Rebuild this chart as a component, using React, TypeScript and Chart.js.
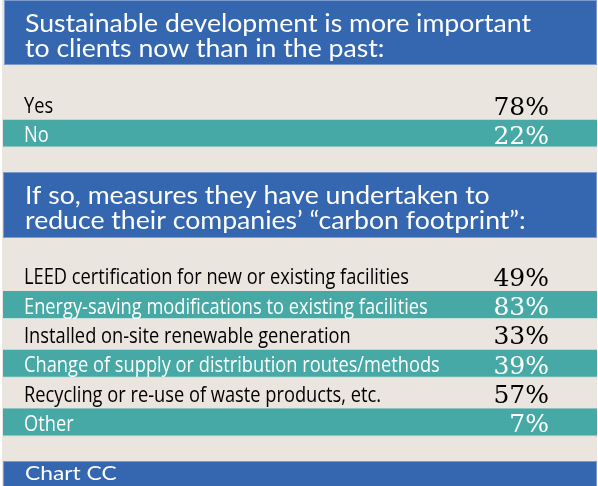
import React, { useEffect, useRef } from "react";
import { Chart, registerables } from "chart.js";

Chart.register(...registerables);

// ---------- data ----------
const TITLE_1 = ["Sustainable development is more important", "to clients now than in the past:"];
const SECTION1_LABELS = ["Yes", "No"];
const SECTION1_VALUES = [78, 22];

const TITLE_2 = ["If so, measures they have undertaken to", "reduce their companies\u2019 \u201Ccarbon footprint\u201D:"];
const SECTION2_LABELS = [
  "LEED certification for new or existing facilities",
  "Energy-saving modifications to existing facilities",
  "Installed on-site renewable generation",
  "Change of supply or distribution routes/methods",
  "Recycling or re-use of waste products, etc.",
  "Other",
];
const SECTION2_VALUES = [49, 83, 33, 39, 57, 7];

const FOOTER = "Chart CC";

// ---------- style ----------
const BLUE = "#3567B1";
const BLUE_EDGE = "#7C9CD0";
const TEAL = "#47A9A6";
const BEIGE = "#EAE5DF";
const LABEL_FONT = '22px "Open Sans", "DejaVu Sans Condensed", sans-serif';
const LABEL_SQUEEZE = 0.83;
const HEADER_FONT = '25px Lato, "Open Sans", sans-serif';
const HEADER_SQUEEZE = 1.065;
const VALUE_FONT = '25px "DejaVu Serif", serif';
const FOOTER_FONT = '19px Lato, "Open Sans", sans-serif';
const FOOTER_SQUEEZE = 1.2;

function drawText(
  ctx: CanvasRenderingContext2D,
  text: string,
  x: number,
  y: number,
  font: string,
  color: string,
  align: "left" | "right",
  squeeze: number
) {
  ctx.save();
  ctx.font = font;
  ctx.fillStyle = color;
  ctx.textBaseline = "alphabetic";
  ctx.textAlign = "left";
  const w = ctx.measureText(text).width * squeeze;
  const left = align === "right" ? x - w : x;
  ctx.translate(left, y);
  ctx.scale(squeeze, 1);
  ctx.fillText(text, 0, 0);
  ctx.restore();
}

type Layout = {
  height: number;
  padTop: number;
  padBottom: number;
  headerTop: number;
  headerHeight: number;
  headerLeft: number;
  title: string[];
  footerTop?: number;
  footerHeight?: number;
};

function tablePlugin(layout: Layout, values: number[]) {
  return {
    id: "tableDecor",
    beforeDraw(chart: any) {
      const { ctx, width, height } = chart;
      ctx.save();
      ctx.fillStyle = BEIGE;
      ctx.fillRect(2, 0, width - 3, height);
      // header band
      ctx.fillStyle = BLUE;
      ctx.fillRect(layout.headerLeft, layout.headerTop, width - 1 - layout.headerLeft, layout.headerHeight);
      ctx.strokeStyle = BLUE_EDGE;
      ctx.lineWidth = 1;
      ctx.strokeRect(layout.headerLeft + 0.5, layout.headerTop + 0.5, width - 2 - layout.headerLeft, layout.headerHeight - 1);
      layout.title.forEach((line, i) => {
        drawText(ctx, line, 25, layout.headerTop + 31.5 + i * 25.5, HEADER_FONT, "#FFFFFF", "left", HEADER_SQUEEZE);
      });
      if (layout.footerTop !== undefined && layout.footerHeight !== undefined) {
        ctx.fillStyle = BLUE;
        ctx.fillRect(3, layout.footerTop, width - 4, layout.footerHeight);
        ctx.strokeStyle = BLUE_EDGE;
        ctx.strokeRect(3.5, layout.footerTop + 0.5, width - 5, layout.footerHeight);
        drawText(ctx, FOOTER, 25, layout.footerTop + 19, FOOTER_FONT, "#FFFFFF", "left", FOOTER_SQUEEZE);
      }
      ctx.restore();
    },
    afterDatasetsDraw(chart: any) {
      const { ctx } = chart;
      const yScale = chart.scales.y;
      const labels: string[] = chart.data.labels;
      labels.forEach((label, i) => {
        const y = yScale.getPixelForValue(i);
        const color = i % 2 === 1 ? "#FFFFFF" : "#000000";
        drawText(ctx, label, 24, y + 8.5, LABEL_FONT, color, "left", LABEL_SQUEEZE);
        drawText(ctx, values[i] + "%", 549, y + 10, VALUE_FONT, color, "right", 1);
      });
    },
  };
}

function TableChart({ labels, values, layout }: { labels: string[]; values: number[]; layout: Layout }) {
  const ref = useRef<HTMLCanvasElement | null>(null);
  useEffect(() => {
    if (!ref.current) return;
    const chart = new Chart(ref.current, {
      type: "bar",
      data: {
        labels,
        datasets: [
          {
            data: labels.map((_, i) => (i % 2 === 1 ? [0, 100] : null)) as any,
            backgroundColor: TEAL,
            borderColor: "rgba(190,225,222,0.9)",
            borderWidth: { top: 0, left: 0, right: 0, bottom: 1 } as any,
            borderSkipped: false,
            barPercentage: 0.96,
            categoryPercentage: 1,
          },
        ],
      },
      options: {
        indexAxis: "y",
        animation: false,
        responsive: false,
        events: [],
        layout: { padding: { top: layout.padTop, bottom: layout.padBottom, left: 3, right: 1 } },
        scales: {
          x: { display: false, min: 0, max: 100 },
          y: { display: false },
        },
        plugins: {
          legend: { display: false },
          tooltip: { enabled: false },
          title: { display: false },
        },
      },
      plugins: [tablePlugin(layout, values)],
    } as any);
    return () => chart.destroy();
  }, [labels, values, layout]);
  return (
    <canvas
      ref={ref}
      width={598}
      height={layout.height}
      style={{ display: "block", width: 598, height: layout.height }}
    />
  );
}

const LAYOUT_1: Layout = {
  height: 160,
  padTop: 90,
  padBottom: 12,
  headerTop: 0,
  headerHeight: 65,
  headerLeft: 4,
  title: TITLE_1,
};

const LAYOUT_2: Layout = {
  height: 326,
  padTop: 101,
  padBottom: 49,
  headerTop: 12,
  headerHeight: 66,
  headerLeft: 3,
  title: TITLE_2,
  footerTop: 301,
  footerHeight: 25,
};

export default function App() {
  useEffect(() => {
    document.body.style.margin = "0";
  }, []);
  return (
    <div style={{ width: 598, height: 486, background: "#FFFFFF" }}>
      <TableChart labels={SECTION1_LABELS} values={SECTION1_VALUES} layout={LAYOUT_1} />
      <TableChart labels={SECTION2_LABELS} values={SECTION2_VALUES} layout={LAYOUT_2} />
    </div>
  );
}
